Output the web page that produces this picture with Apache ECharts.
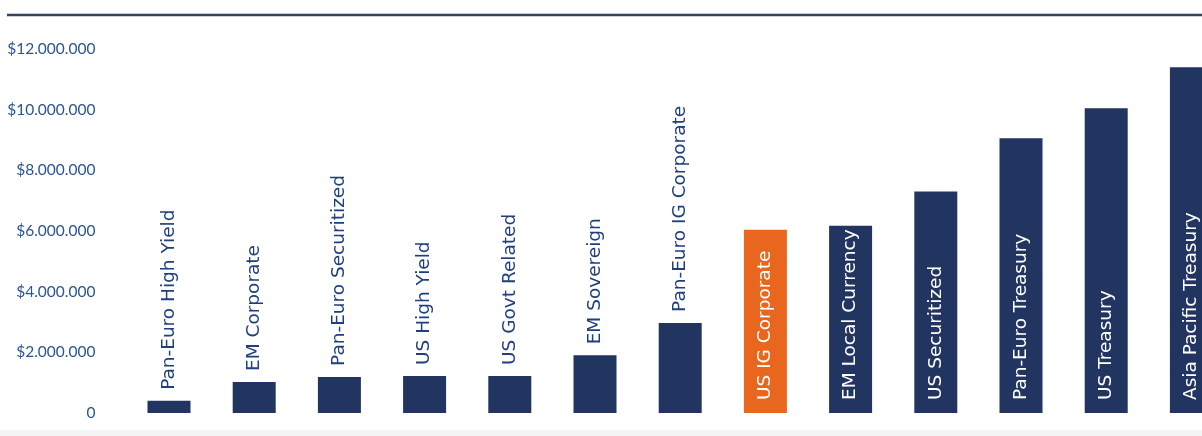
<!DOCTYPE html>
<html><head><meta charset="utf-8">
<style>html,body{margin:0;padding:0;background:#fff;overflow:hidden;width:1202px;height:436px;}#c{width:1234px;height:436px;}</style>
<script src="https://cdn.jsdelivr.net/npm/echarts@6/dist/echarts.min.js"></script>
</head><body><div id="c"></div>
<script>
const categories = ["Pan-Euro High Yield","EM Corporate","Pan-Euro Securitized","US High Yield","US Govt Related","EM Sovereign","Pan-Euro IG Corporate","US IG Corporate","EM Local Currency","US Securitized","Pan-Euro Treasury","US Treasury","Asia Pacific Treasury"];
const values = [400000,1020000,1190000,1220000,1220000,1900000,2970000,6040000,6170000,7300000,9060000,10050000,11400000];
const highlight = "US IG Corporate";
const yTicks = [0,2000000,4000000,6000000,8000000,10000000,12000000];

const NAVY = '#213560', ORANGE = '#e8661d';
const fmt = v => v === 0 ? '0' : '$' + String(v).replace(/\B(?=(\d{3})+(?!\d))/g, '.');

const data = values.map((v, i) => {
  const inside = v > 5000000;
  return {
    value: v,
    itemStyle: { color: categories[i] === highlight ? ORANGE : NAVY },
    label: inside
      ? { position: 'insideBottom', distance: 13, color: '#ffffff' }
      : { position: 'top', distance: 11, color: '#1f3f7e' }
  };
});

const chart = echarts.init(document.getElementById('c'), null, {renderer: 'canvas'});
chart.setOption({
  animation: false,
  grid: { left: 126.4, right: 0, top: 49, bottom: 23, containLabel: false },
  xAxis: { type: 'category', data: categories, axisLine: {show: false}, axisTick: {show: false}, axisLabel: {show: false} },
  yAxis: {
    type: 'value', min: yTicks[0], max: yTicks[yTicks.length-1], interval: yTicks[1]-yTicks[0],
    splitLine: {show: false}, axisLine: {show: false}, axisTick: {show: false},
    axisLabel: { formatter: fmt, color: '#2c5491', fontFamily: 'Lato', fontSize: 15.5, margin: 31, align: 'right' }
  },
  series: [{
    type: 'bar', data: data, barWidth: 43,
    label: { show: true, rotate: 90, align: 'left', verticalAlign: 'middle',
      formatter: p => p.name, fontFamily: 'DejaVu Sans', fontSize: 18.5 }
  }],
  graphic: [
    { type: 'line', shape: { x1: 7, y1: 15, x2: 1234, y2: 15 }, style: { stroke: '#33445f', lineWidth: 2.5 } },
    { type: 'rect', shape: { x: 0, y: 430, width: 1234, height: 6 }, style: { fill: '#f4f4f4' }, z: -1 }
  ]
});
</script></body></html>
